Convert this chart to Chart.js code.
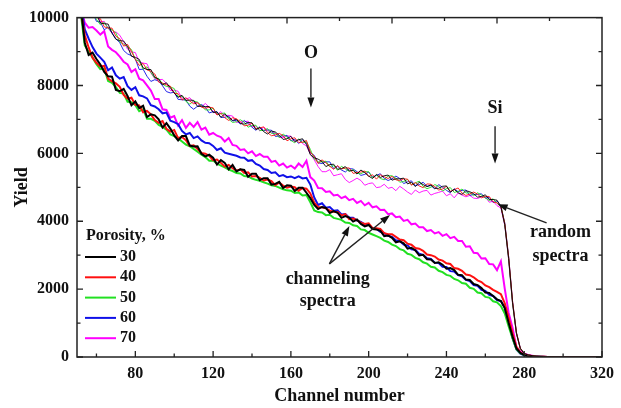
<!DOCTYPE html>
<html>
<head>
<meta charset="utf-8">
<script src="https://cdn.jsdelivr.net/npm/chart.js@4.4.1/dist/chart.umd.min.js"></script>
<style>
  html, body { margin: 0; padding: 0; background: #fff; }
  #wrap { width: 621px; height: 408px; }
</style>
</head>
<body>
<div id="wrap"><canvas id="chart"></canvas></div>
<script>
// channel numbers (x), every second channel
const channels = [
  52,54,56,58,60,62,64,66,68,70,
  72,74,76,78,80,82,84,86,88,90,
  92,94,96,98,100,102,104,106,108,110,
  112,114,116,118,120,122,124,126,128,130,
  132,134,136,138,140,142,144,146,148,150,
  152,154,156,158,160,162,164,166,168,170,
  172,174,176,178,180,182,184,186,188,190,
  192,194,196,198,200,202,204,206,208,210,
  212,214,216,218,220,222,224,226,228,230,
  232,234,236,238,240,242,244,246,248,250,
  252,254,256,258,260,262,264,266,268,270,
  272,274,276,278,280,282,284,286,288,290,
  292,294,296,298,300,302,304,306,308,310,
  312,314,316,318,320
];

// channeling spectra, porosity 30..70 %
const c30 = [
  10300,9260,8900,8970,8780,8620,8400,8270,8260,7870,
  7830,7900,7690,7420,7530,7330,7400,7070,7150,7120,
  7000,6760,6890,6730,6530,6380,6510,6510,6230,6200,
  6210,5990,5910,5960,5870,5670,5800,5720,5530,5660,
  5470,5530,5510,5310,5400,5400,5210,5270,5270,5080,
  5100,5160,4980,5060,5050,4890,4990,4990,4840,4680,
  4480,4360,4420,4390,4240,4300,4250,4100,4150,4110,
  3990,4050,3920,3850,3890,3770,3760,3720,3560,3580,
  3510,3380,3410,3350,3190,3220,3140,2990,3010,2880,
  2870,2770,2790,2720,2600,2620,2560,2420,2410,2280,
  2270,2150,2120,2030,1900,1890,1800,1700,1650,1440,
  1000,600,250,120,60,40,25,15,10,5,
  0,0,0,0,0,0,0,0,0,0,
  0,0,0,0,0
];
const c40 = [
  10200,9480,9120,8820,8670,8560,8580,8200,8120,8060,
  7960,7720,7610,7640,7430,7410,7210,7250,7150,6980,
  6900,6950,6720,6640,6690,6450,6480,6390,6220,6240,
  6130,6010,5990,5930,5800,5820,5720,5610,5660,5560,
  5490,5530,5420,5440,5320,5330,5280,5200,5230,5180,
  5060,5140,5050,4990,5020,5000,4900,4980,4960,4820,
  4550,4420,4410,4380,4310,4280,4270,4170,4210,4060,
  4080,4030,3960,3920,3940,3800,3790,3770,3650,3620,
  3620,3540,3460,3440,3340,3310,3210,3190,3130,3020,
  3000,2960,2870,2840,2760,2740,2620,2600,2540,2430,
  2410,2350,2260,2210,2110,2060,1980,1920,1850,1580,
  1150,700,300,140,70,45,30,15,10,5,
  0,0,0,0,0,0,0,0,0,0,
  0,0,0,0,0
];
const c50 = [
  10100,9180,9000,8820,8630,8480,8500,8130,8080,7950,
  7780,7760,7520,7510,7420,7240,7300,7020,7020,6960,
  6840,6780,6700,6560,6510,6440,6350,6260,6210,6130,
  6050,5960,5890,5780,5790,5700,5640,5590,5520,5480,
  5420,5410,5330,5320,5260,5220,5190,5150,5110,5060,
  5040,4990,4940,4910,4900,4830,4850,4760,4770,4560,
  4320,4270,4260,4180,4190,4100,4070,4040,3960,3950,
  3880,3860,3760,3740,3660,3610,3560,3510,3430,3390,
  3310,3270,3180,3140,3040,3010,2920,2880,2790,2750,
  2660,2640,2540,2500,2420,2390,2300,2260,2180,2160,
  2040,2010,1900,1880,1770,1750,1640,1610,1500,1280,
  900,550,230,110,55,35,20,10,5,0,
  0,0,0,0,0,0,0,0,0,0,
  0,0,0,0,0
];
const c60 = [
  10400,9650,9380,9130,8940,8820,8700,8450,8530,8300,
  8200,8250,7980,7870,7950,7710,7680,7620,7420,7380,
  7300,7180,7200,6960,6920,6860,6660,6560,6600,6450,
  6500,6380,6310,6300,6220,6100,6150,6020,5990,5960,
  5930,5880,5870,5780,5800,5690,5640,5540,5510,5420,
  5440,5330,5360,5300,5320,5270,5320,5260,5280,5080,
  4700,4480,4530,4400,4420,4310,4320,4200,4210,4100,
  4100,4020,3980,3910,3900,3790,3770,3690,3650,3570,
  3540,3440,3420,3310,3290,3170,3160,3040,3010,2910,
  2890,2780,2770,2660,2650,2530,2520,2410,2380,2270,
  2240,2120,2100,1980,1950,1830,1800,1680,1650,1450,
  1000,550,220,100,50,30,20,10,5,0,
  0,0,0,0,0,0,0,0,0,0,
  0,0,0,0,0
];
const c70 = [
  10300,9850,9700,9720,9620,9500,9600,9150,9050,8980,
  8850,8700,8620,8400,8480,8200,8150,8000,7850,7600,
  7600,7300,7280,7050,7100,6820,6980,6750,6900,6780,
  6920,6700,6760,6550,6600,6520,6480,6350,6450,6250,
  6220,6100,6120,6000,6060,5920,5980,5900,5900,5750,
  5780,5640,5700,5580,5640,5550,5700,5600,5780,5300,
  5200,4980,4970,4860,4880,4760,4780,4680,4730,4620,
  4660,4540,4600,4470,4540,4410,4440,4330,4340,4210,
  4230,4120,4140,4010,4040,3910,3930,3820,3820,3710,
  3740,3640,3680,3570,3620,3500,3540,3420,3420,3250,
  3260,3070,3060,2900,2910,2740,2730,2560,2820,2010,
  1300,860,290,160,100,60,40,20,10,5,
  0,0,0,0,0,0,0,0,0,0,
  0,0,0,0,0
];

// random spectra, porosity 30..70 %
const r30 = [
  10570,10360,10120,10080,10100,9840,9820,9810,9540,9360,
  9320,9310,9150,8860,8830,8770,8520,8470,8470,8240,
  8190,8020,8080,7930,7780,7650,7710,7560,7570,7560,
  7380,7390,7380,7380,7200,7220,7060,7160,7060,6970,
  7000,6880,6860,6910,6900,6700,6760,6640,6570,6660,
  6630,6530,6410,6430,6500,6350,6400,6430,6260,5960,
  5870,5830,5760,5610,5670,5680,5530,5550,5610,5480,
  5500,5390,5510,5430,5330,5260,5380,5290,5340,5360,
  5210,5250,5250,5270,5100,5150,5020,5150,5080,5020,
  5070,4970,4970,5030,5040,4860,4940,4840,4790,4900,
  4870,4810,4710,4730,4780,4640,4640,4620,4430,3900,
  2900,1600,700,250,100,60,40,25,15,10,
  5,5,0,0,0,0,0,0,0,0,
  0,0,0,0,0
];
const r40 = [
  10460,10430,10250,10000,10010,9970,9730,9690,9690,9450,
  9380,9160,9210,9000,8770,8590,8650,8460,8420,8340,
  8100,8070,8020,7980,7770,7760,7570,7640,7540,7460,
  7490,7360,7330,7360,7340,7130,7180,7050,6970,7050,
  7020,6930,6810,6830,6890,6720,6750,6780,6610,6520,
  6540,6590,6520,6370,6430,6460,6320,6330,6380,6030,
  5920,5700,5810,5720,5620,5530,5640,5540,5570,5570,
  5410,5440,5450,5480,5320,5370,5240,5370,5310,5260,
  5320,5220,5200,5250,5240,5060,5140,5040,4990,5100,
  5090,5020,4920,4950,5030,4880,4930,4980,4830,4760,
  4800,4860,4800,4690,4730,4730,4570,4540,4440,3940,
  2950,1650,720,260,110,60,40,25,15,10,
  5,5,0,0,0,0,0,0,0,0,
  0,0,0,0,0
];
const r50 = [
  10520,10280,10310,10140,9950,9790,9860,9680,9640,9550,
  9280,9220,9140,9060,8760,8720,8480,8550,8380,8220,
  8210,8040,7970,7960,7910,7670,7690,7530,7450,7540,
  7510,7410,7280,7280,7330,7150,7170,7190,7010,6910,
  6930,6990,6920,6770,6820,6830,6670,6680,6730,6590,
  6590,6460,6570,6480,6380,6310,6430,6320,6340,6120,
  5830,5750,5750,5770,5610,5640,5500,5620,5540,5470,
  5520,5410,5400,5460,5460,5280,5360,5260,5220,5340,
  5340,5270,5150,5170,5230,5080,5130,5180,5030,4960,
  5000,5080,5030,4890,4960,4990,4850,4880,4950,4830,
  4840,4750,4840,4770,4690,4610,4660,4530,4460,3900,
  2880,1580,690,240,100,60,40,25,15,10,
  5,5,0,0,0,0,0,0,0,0,
  0,0,0,0,0
];
const r60 = [
  10370,10290,10190,10150,9890,9870,9640,9720,9550,9380,
  9260,9030,8930,8880,8780,8470,8480,8270,8120,8170,
  8130,7990,7820,7780,7800,7590,7580,7570,7390,7300,
  7390,7440,7360,7190,7230,7230,7060,7060,7100,6950,
  6980,6860,6970,6880,6770,6680,6780,6670,6690,6680,
  6500,6510,6510,6530,6370,6420,6290,6400,6310,6020,
  5940,5720,5700,5750,5750,5550,5620,5510,5450,5550,
  5540,5460,5350,5380,5450,5300,5350,5400,5260,5200,
  5250,5330,5260,5110,5160,5190,5050,5080,5150,5030,
  5050,4950,5080,5000,4910,4840,4960,4870,4910,4920,
  4760,4790,4790,4810,4680,4700,4550,4600,4450,3950,
  2950,1640,720,260,110,60,40,25,15,10,
  5,5,0,0,0,0,0,0,0,0,
  0,0,0,0,0
];
const r70 = [
  10600,10350,10230,10220,10160,9870,9890,9690,9540,9580,
  9480,9290,9070,8990,8970,8690,8660,8640,8370,8200,
  8170,8180,8060,7850,7860,7830,7630,7600,7640,7500,
  7500,7370,7470,7360,7240,7140,7230,7110,7120,7100,
  6910,6930,6930,6950,6780,6810,6660,6770,6680,6600,
  6610,6480,6460,6510,6510,6330,6410,6290,6220,5980,
  5810,5610,5460,5460,5520,5340,5370,5400,5230,5140,
  5200,5270,5200,5060,5110,5130,4990,5010,5090,4970,
  5000,4900,5030,4950,4860,4790,4920,4840,4890,4910,
  4770,4820,4850,4890,4750,4810,4690,4830,4770,4720,
  4760,4680,4670,4720,4720,4560,4590,4460,4390,3870,
  2850,1560,680,240,100,60,40,25,15,10,
  5,5,0,0,0,0,0,0,0,0,
  0,0,0,0,0
];

const porosity = ['30', '40', '50', '60', '70'];
const colors = ['#000000', '#ff1010', '#22e022', '#1010e8', '#ff00ff'];
const channeling = [c30, c40, c50, c60, c70];
const random = [r30, r40, r50, r60, r70];

const xMajor = [80, 120, 160, 200, 240, 280, 320];
const xMinor = [60, 100, 140, 180, 220, 260, 300];
const yMajor = [0, 2000, 4000, 6000, 8000, 10000];
const yMinor = [1000, 3000, 5000, 7000, 9000];

const SERIF = "'Liberation Serif', 'Times New Roman', serif";

const toXY = vals => vals.map((v, i) => ({ x: channels[i], y: v }));

const datasets = [];
random.forEach((vals, i) => {
  datasets.push({
    label: 'random ' + porosity[i],
    data: toXY(vals),
    borderColor: colors[i],
    borderWidth: 0.9,
    pointRadius: 0,
    tension: 0
  });
});
channeling.forEach((vals, i) => {
  datasets.push({
    label: porosity[i],
    data: toXY(vals),
    borderColor: colors[i],
    borderWidth: 2,
    pointRadius: 0,
    tension: 0
  });
});

function arrow(ctx, x1, y1, x2, y2) {
  const ang = Math.atan2(y2 - y1, x2 - x1);
  const len = 10, half = 3.5;
  const bx = x2 - len * Math.cos(ang), by = y2 - len * Math.sin(ang);
  ctx.beginPath();
  ctx.moveTo(x1, y1);
  ctx.lineTo(bx, by);
  ctx.stroke();
  ctx.beginPath();
  ctx.moveTo(x2, y2);
  ctx.lineTo(bx + half * Math.sin(ang), by - half * Math.cos(ang));
  ctx.lineTo(bx - half * Math.sin(ang), by + half * Math.cos(ang));
  ctx.closePath();
  ctx.fill();
}

// frame, inward ticks, annotations and legend
const decor = {
  id: 'decor',
  afterDatasetsDraw(chart) {
    const { ctx, chartArea: a, scales: { x, y } } = chart;
    ctx.save();
    ctx.strokeStyle = '#222';
    ctx.fillStyle = '#111';
    ctx.lineWidth = 1.5;
    ctx.strokeRect(a.left, a.top, a.right - a.left, a.bottom - a.top);

    ctx.lineWidth = 1.3;
    ctx.beginPath();
    const xt = (v, len) => {
      const px = x.getPixelForValue(v);
      ctx.moveTo(px, a.bottom); ctx.lineTo(px, a.bottom - len);
    };
    xMajor.forEach(v => xt(v, 6));
    xMinor.forEach(v => xt(v, 3.5));
    // top axis carries its own evenly spaced ticks
    for (let k = 1; k < 10; k++) {
      const px = a.left + k * (a.right - a.left) / 10;
      const len = k % 2 === 0 ? 6 : 3.5;
      ctx.moveTo(px, a.top); ctx.lineTo(px, a.top + len);
    }
    const yt = (v, len) => {
      const py = y.getPixelForValue(v);
      ctx.moveTo(a.left, py); ctx.lineTo(a.left + len, py);
      ctx.moveTo(a.right, py); ctx.lineTo(a.right - len, py);
    };
    yMajor.forEach(v => yt(v, 6));
    yMinor.forEach(v => yt(v, 3.5));
    ctx.stroke();

    // annotations
    ctx.font = 'bold 18px ' + SERIF;
    ctx.textAlign = 'center';
    ctx.textBaseline = 'middle';
    ctx.lineWidth = 1.4;
    const X = v => x.getPixelForValue(v), Y = v => y.getPixelForValue(v);

    ctx.fillText('O', X(170.3), Y(8950));
    arrow(ctx, X(170.3), Y(8500), X(170.3), Y(7350));
    ctx.fillText('Si', X(265), Y(7320));
    arrow(ctx, X(265), Y(6800), X(265), Y(5700));

    ctx.fillText('random', X(298.7), Y(3660));
    ctx.fillText('spectra', X(298.7), Y(2960));
    arrow(ctx, X(291.5), Y(3950), X(266.3), Y(4500));

    ctx.fillText('channeling', X(178.9), Y(2275));
    ctx.fillText('spectra', X(178.9), Y(1640));
    arrow(ctx, X(179.8), Y(2745), X(190.1), Y(3860));
    arrow(ctx, X(179.8), Y(2745), X(211), Y(4185));

    // legend
    ctx.textAlign = 'left';
    ctx.font = 'bold 16px ' + SERIF;
    ctx.fillText('Porosity, %', a.left + 9, 236);
    porosity.forEach((p, i) => {
      const ly = 257 + i * 20.3;
      ctx.strokeStyle = colors[i];
      ctx.lineWidth = 2;
      ctx.beginPath();
      ctx.moveTo(a.left + 8, ly); ctx.lineTo(a.left + 39, ly);
      ctx.stroke();
      ctx.fillText(p, a.left + 43, ly);
    });
    ctx.restore();
  }
};

new Chart(document.getElementById('chart'), {
  type: 'line',
  data: { datasets },
  options: {
    responsive: true,
    maintainAspectRatio: false,
    animation: false,
    layout: { padding: { left: 0, right: 14, top: 10, bottom: 0 } },
    plugins: { legend: { display: false }, tooltip: { enabled: false } },
    scales: {
      x: {
        type: 'linear',
        min: 50,
        max: 320,
        grid: { display: false, drawTicks: false },
        border: { display: false },
        afterBuildTicks: s => { s.ticks = xMajor.map(v => ({ value: v })); },
        afterFit: s => { s.height = 51; },
        ticks: {
          padding: 7,
          color: '#111',
          callback: v => String(v),
          font: { family: SERIF, size: 16, weight: 'bold' }
        },
        title: {
          display: true,
          text: 'Channel number',
          color: '#111',
          padding: { top: 0, bottom: 1 },
          font: { family: SERIF, size: 18, weight: 'bold' }
        }
      },
      y: {
        min: 0,
        max: 10000,
        grid: { display: false, drawTicks: false },
        border: { display: false },
        afterBuildTicks: s => { s.ticks = yMajor.map(v => ({ value: v })); },
        afterFit: s => { s.width = 77; },
        ticks: {
          padding: 8,
          color: '#111',
          callback: v => String(v),
          font: { family: SERIF, size: 16, weight: 'bold' }
        },
        title: {
          display: true,
          text: 'Yield',
          color: '#111',
          padding: { top: 12, bottom: 0 },
          font: { family: SERIF, size: 18, weight: 'bold' }
        }
      }
    }
  },
  plugins: [decor]
});
</script>
</body>
</html>
